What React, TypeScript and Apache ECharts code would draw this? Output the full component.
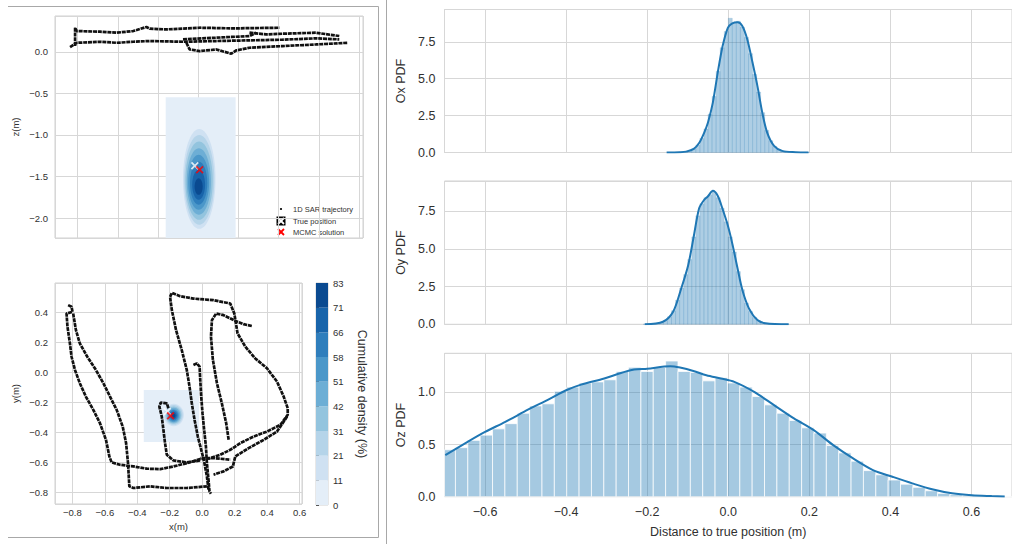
import React, { useEffect, useRef } from 'react';
import * as echarts from 'echarts';

const FONT = '"Liberation Sans", Arial, sans-serif';
const TXT = '#303030';
const GRID = '#d7d7d7';

// ---- 1D SAR trajectory, side view (x, z) ----
const sarXZSeg1 = [[-0.813,0.068],[-0.813,0.289],[-0.805,0.249],[-0.689,0.241],[-0.606,0.229],[-0.524,0.249],[-0.458,0.297],[-0.441,0.277],[-0.358,0.269],[-0.193,0.289],[-0.028,0.281],[0.204,0.289]];
const sarXZSeg2 = [[-0.838,0.056],[-0.805,0.108],[-0.689,0.120],[-0.606,0.108],[-0.524,0.120],[-0.441,0.129],[-0.276,0.120],[-0.110,0.129],[0.055,0.137],[0.220,0.145],[0.386,0.161],[0.502,0.149]];
const sarXZSeg3 = [[0.055,0.229],[0.138,0.209],[0.220,0.217],[0.386,0.229],[0.502,0.189]];
const sarXZSeg4 = [[-0.259,0.108],[-0.243,0.028],[-0.193,0.008],[-0.110,0.028],[-0.036,-0.024],[-0.011,0.016],[0.055,0.048],[0.220,0.068],[0.386,0.088],[0.543,0.108]];
const sarXZSeg5 = [[-0.276,0.149],[-0.110,0.169],[0.055,0.189],[0.088,0.229]];

// ---- 1D SAR trajectory, top view (x, y) ----
const sarXYSeg1 = [[-0.826,0.449],[-0.805,0.438],[-0.799,0.404],[-0.836,0.393],[-0.830,0.304],[-0.815,0.193],[-0.805,0.104],[-0.784,0.016],[-0.754,-0.073],[-0.717,-0.162],[-0.671,-0.251],[-0.630,-0.340],[-0.593,-0.451],[-0.572,-0.562],[-0.558,-0.602],[-0.506,-0.618],[-0.424,-0.629],[-0.342,-0.644],[-0.259,-0.647],[-0.177,-0.629],[-0.095,-0.607],[-0.012,-0.580],[0.070,-0.573],[0.173,-0.584]];
const sarXYSeg2 = [[-0.795,0.393],[-0.778,0.282],[-0.754,0.193],[-0.708,0.104],[-0.655,0.016],[-0.609,-0.073],[-0.568,-0.162],[-0.527,-0.251],[-0.490,-0.362],[-0.469,-0.473],[-0.457,-0.607],[-0.449,-0.762],[-0.424,-0.773],[-0.321,-0.762],[-0.218,-0.773],[-0.095,-0.773],[0.029,-0.762]];
const sarXYSeg3 = [[-0.208,-0.240],[-0.218,-0.207],[-0.255,-0.202],[-0.264,-0.229],[-0.249,-0.296],[-0.239,-0.384],[-0.229,-0.473],[-0.218,-0.551],[-0.177,-0.589],[-0.095,-0.602],[-0.012,-0.589]];
const sarXYSeg4 = [[-0.054,0.049],[-0.033,0.060],[-0.016,0.038],[-0.012,-0.051],[-0.006,-0.162],[0.002,-0.273],[0.012,-0.384],[0.023,-0.496],[0.029,-0.607],[0.039,-0.718],[0.045,-0.796],[0.054,-0.811]];
const sarXYSeg5 = [[0.039,-0.784],[0.029,-0.696],[0.012,-0.596],[-0.006,-0.518],[-0.027,-0.429],[-0.047,-0.318],[-0.064,-0.207],[-0.078,-0.096],[-0.095,0.016],[-0.126,0.149],[-0.161,0.282],[-0.187,0.416],[-0.198,0.504],[-0.187,0.531],[-0.136,0.509],[-0.054,0.493],[0.070,0.482],[0.173,0.460],[0.198,0.393],[0.218,0.260],[0.266,0.171],[0.327,0.093],[0.399,0.027],[0.461,-0.062],[0.502,-0.162],[0.527,-0.240],[0.527,-0.284],[0.482,-0.351],[0.399,-0.396],[0.317,-0.429],[0.235,-0.473],[0.173,-0.518],[0.111,-0.551],[0.049,-0.573],[-0.012,-0.573]];
const sarXYSeg6 = [[0.163,-0.451],[0.148,-0.340],[0.121,-0.207],[0.091,-0.073],[0.066,0.082],[0.054,0.238],[0.060,0.349],[0.086,0.393],[0.132,0.382],[0.194,0.349],[0.255,0.322],[0.307,0.309]];
const sarXYSeg7 = [[0.523,-0.296],[0.461,-0.396],[0.379,-0.451],[0.286,-0.507],[0.204,-0.562],[0.189,-0.629],[0.132,-0.662],[0.070,-0.684]];

// ---- KDE of MCMC samples: grid extent [x0, y0, x1, y1] and contour levels [cx, cy, rx, ry] ----
const kdeXZRect = [-0.362, -2.24, -0.014, -0.546];
const kdeXZLevels = [
  [-0.195,-1.53,0.081,0.60],[-0.195,-1.54,0.075,0.54],[-0.196,-1.55,0.068,0.47],[-0.197,-1.56,0.060,0.40],
  [-0.198,-1.57,0.052,0.33],[-0.198,-1.58,0.043,0.26],[-0.198,-1.60,0.032,0.18],[-0.198,-1.62,0.020,0.10],
];
const kdeXYRect = [-0.36, -0.465, -0.019, -0.118];
const kdeXYLevels = [
  [-0.175,-0.285,0.062,0.075],[-0.175,-0.285,0.055,0.066],[-0.176,-0.286,0.048,0.058],[-0.176,-0.287,0.041,0.050],
  [-0.177,-0.288,0.034,0.042],[-0.177,-0.288,0.027,0.034],[-0.177,-0.289,0.020,0.025],[-0.177,-0.289,0.012,0.016],
];
const truePosXZ = [-0.217, -1.37];
const mcmcXZ = [-0.193, -1.42];
const truePosXY = [-0.215, -0.262];
const mcmcXY = [-0.195, -0.291];

// ---- colour bar ----
const cbTicks = ['0','11','21','31','42','51','58','66','71','83'];
const blues = ['#e4eef8','#cfe1f2','#b5d4e9','#93c4de','#6daed5','#4b97c9','#2f7ebc','#1864aa','#0a4a90'];

// ---- marginal PDFs ----
const oxHistStart = -0.15;
const oxHistWidth = 0.01;
const oxHist = [0.01,0.01,0.02,0.03,0.06,0.12,0.25,0.5,0.95,1.6,2.6,3.8,5.5,7.1,8.2,9.1,8.8,8.9,8.5,7.8,6.7,5.3,4.1,2.7,1.5,0.8,0.4,0.2,0.1,0.05,0.03,0.02,0.01,0.01,0.01];
const oxKde = [[-0.152,0.0],[-0.120,0.02],[-0.104,0.06],[-0.085,0.25],[-0.071,0.68],[-0.060,1.3],[-0.050,2.03],[-0.038,3.38],[-0.026,5.4],[-0.014,7.2],[-0.001,8.45],[0.009,8.74],[0.023,8.83],[0.035,8.56],[0.047,7.66],[0.060,6.08],[0.072,4.5],[0.084,2.7],[0.096,1.35],[0.113,0.45],[0.133,0.11],[0.166,0.02],[0.198,0.0]];

const oyHistStart = -0.21;
const oyHistWidth = 0.01;
const oyHist = [0.01,0.01,0.02,0.04,0.1,0.25,0.5,0.9,1.6,2.4,3.3,4.3,5.8,7.2,8.0,8.4,8.6,8.8,8.4,7.7,6.8,5.8,4.8,3.5,2.3,1.4,0.85,0.45,0.25,0.12,0.06,0.03,0.02,0.01,0.01,0.01];
const oyKde = [[-0.206,0],[-0.161,0.17],[-0.136,0.83],[-0.116,2.38],[-0.099,3.9],[-0.086,5.7],[-0.072,7.68],[-0.061,8.2],[-0.050,8.5],[-0.038,8.86],[-0.026,8.53],[-0.014,7.65],[-0.001,6.55],[0.011,5.23],[0.023,3.7],[0.035,2.26],[0.051,1.06],[0.072,0.28],[0.092,0.07],[0.149,0]];

const ozHistStart = -0.7035;
const ozHistWidth = 0.0305;
const ozHist = [0.45,0.47,0.54,0.59,0.65,0.70,0.80,0.87,0.89,1.01,1.05,1.09,1.10,1.12,1.20,1.24,1.20,1.24,1.30,1.20,1.19,1.11,1.14,1.09,1.05,0.96,0.88,0.80,0.73,0.66,0.61,0.49,0.42,0.34,0.25,0.21,0.16,0.12,0.09,0.057,0.032,0.019,0.013,0.006,0.003,0.002];
const ozKde = [[-0.698,0.399],[-0.643,0.526],[-0.6,0.621],[-0.550,0.717],[-0.493,0.836],[-0.444,0.931],[-0.4,1.020],[-0.363,1.074],[-0.306,1.132],[-0.269,1.18],[-0.232,1.218],[-0.2,1.227],[-0.143,1.250],[-0.119,1.237],[-0.086,1.205],[-0.054,1.163],[-0.018,1.132],[0.015,1.100],[0.064,1.004],[0.113,0.877],[0.162,0.750],[0.211,0.638],[0.259,0.494],[0.308,0.367],[0.357,0.255],[0.405,0.191],[0.454,0.128],[0.503,0.071],[0.552,0.032],[0.601,0.013],[0.650,0.006],[0.682,0.003]];

const fmt = (v: number) => {
  if (Math.abs(v) < 1e-9) return '0.0';
  return (v < 0 ? '\u2212' : '') + Math.abs(v).toFixed(1);
};

const histData = (start: number, w: number, vals: number[]) =>
  vals.map((v, i) => [start + i * w, start + (i + 1) * w, v]);

const rectRender = (fill: string) => (params: any, api: any) => {
  const p0 = api.coord([api.value(0), api.value(1)]);
  const p1 = api.coord([api.value(2), api.value(3)]);
  return {
    type: 'rect',
    shape: { x: Math.min(p0[0], p1[0]), y: Math.min(p0[1], p1[1]), width: Math.abs(p1[0] - p0[0]), height: Math.abs(p1[1] - p0[1]) },
    style: { fill },
  };
};

const ellipseRender = (params: any, api: any) => {
  const c = api.coord([api.value(0), api.value(1)]);
  const s = api.size([api.value(2), api.value(3)]);
  return { type: 'ellipse', shape: { cx: c[0], cy: c[1], rx: s[0], ry: s[1] }, style: { fill: blues[params.dataIndex + 1] } };
};

const histRender = (fill: string, stroke: string, lw: number) => (params: any, api: any) => {
  const cs = params.coordSys;
  const p0 = api.coord([api.value(0), api.value(2)]);
  const p1 = api.coord([api.value(1), 0]);
  const x0 = Math.max(p0[0], cs.x);
  const x1 = Math.min(p1[0], cs.x + cs.width);
  if (x1 <= x0) return null;
  return { type: 'rect', shape: { x: x0, y: p0[1], width: x1 - x0, height: p1[1] - p0[1] }, style: { fill, stroke, lineWidth: lw } };
};

const X_PATH = 'path://M0,1.6L1.6,0L5,3.4L8.4,0L10,1.6L6.6,5L10,8.4L8.4,10L5,6.6L1.6,10L0,8.4L3.4,5Z';

export default function App() {
  const ref = useRef<HTMLDivElement>(null);
  useEffect(() => {
    if (!ref.current) return;
    const chart = echarts.init(ref.current, undefined, { renderer: 'svg' });

    const split = { show: true, lineStyle: { color: GRID, width: 1 } };
    const noLine = { show: false };
    const lbl = (size: number, margin: number, extra: any = {}) => ({ fontSize: size, color: TXT, fontFamily: FONT, margin, formatter: fmt, ...extra });
    const nameStyle = (size: number) => ({ fontSize: size, color: TXT, fontFamily: FONT });
    const gridBox = { show: true, borderColor: '#d0d0d0', borderWidth: 1, backgroundColor: 'transparent' };

    const trajSeries = (segs: number[][][], xi: number) =>
      segs.map((seg) => ({
        type: 'line', xAxisIndex: xi, yAxisIndex: xi, data: seg, showSymbol: false, silent: true,
        lineStyle: { color: '#111111', width: 2.7, type: [4, 0.8] },
      }));

    const markerSeries = (pt: number[], color: string, xi: number) => ({
      type: 'scatter', xAxisIndex: xi, yAxisIndex: xi, data: [pt], symbol: X_PATH, symbolSize: 8, silent: true,
      itemStyle: { color },
    });

    const option: any = {
      animation: false,
      backgroundColor: '#ffffff',
      textStyle: { fontFamily: FONT },
      grid: [
        { left: 55, top: 16, width: 308, height: 222, ...gridBox },
        { left: 55, top: 283, width: 247, height: 221, ...gridBox },
        { left: 316, top: 283, width: 12, height: 222, ...gridBox },
        { left: 444.5, top: 9.5, width: 574.5, height: 143, ...gridBox },
        { left: 444.5, top: 181, width: 574.5, height: 143.3, ...gridBox },
        { left: 444.5, top: 353.3, width: 574.5, height: 143.4, ...gridBox },
      ],
      xAxis: [
        { type: 'value', gridIndex: 0, min: -0.913, max: 0.62, splitNumber: 7, axisLabel: { show: false }, axisLine: noLine, axisTick: noLine, splitLine: split },
        { type: 'value', gridIndex: 1, min: -0.907, max: 0.615, splitNumber: 7, axisLabel: lbl(9.5, 3, { showMinLabel: false, showMaxLabel: false }), axisLine: noLine, axisTick: noLine, splitLine: split,
          name: 'x(m)', nameLocation: 'middle', nameGap: 17, nameTextStyle: nameStyle(9.5) },
        { type: 'value', gridIndex: 2, min: 0, max: 1, show: false },
        { type: 'value', gridIndex: 3, min: -0.7, max: 0.7, splitNumber: 7, axisLabel: { show: false }, axisLine: noLine, axisTick: noLine, splitLine: split },
        { type: 'value', gridIndex: 4, min: -0.7, max: 0.7, splitNumber: 7, axisLabel: { show: false }, axisLine: noLine, axisTick: noLine, splitLine: split },
        { type: 'value', gridIndex: 5, min: -0.7, max: 0.7, splitNumber: 7, axisLabel: lbl(12.5, 9, { showMinLabel: false, showMaxLabel: false }), axisLine: noLine, axisTick: noLine, splitLine: split,
          name: 'Distance to true position (m)', nameLocation: 'middle', nameGap: 29, nameTextStyle: nameStyle(12.5) },
      ],
      yAxis: [
        { type: 'value', gridIndex: 0, min: -2.24, max: 0.43, splitNumber: 5, axisLabel: lbl(9.5, 7, { showMinLabel: false, showMaxLabel: false }), axisLine: noLine, axisTick: noLine, splitLine: split,
          name: 'z(m)', nameLocation: 'middle', nameGap: 35, nameRotate: 90, nameTextStyle: nameStyle(9.5) },
        { type: 'value', gridIndex: 1, min: -0.88, max: 0.597, splitNumber: 7, axisLabel: lbl(9.5, 7, { showMinLabel: false, showMaxLabel: false }), axisLine: noLine, axisTick: noLine, splitLine: split,
          name: 'y(m)', nameLocation: 'middle', nameGap: 35, nameRotate: 90, nameTextStyle: nameStyle(9.5) },
        { type: 'value', gridIndex: 2, min: 0, max: 9, interval: 1, position: 'right', axisLine: noLine, splitLine: { show: false },
          axisTick: { show: true, length: 3, lineStyle: { color: '#555555', width: 1 } },
          axisLabel: { fontSize: 9.5, color: TXT, fontFamily: FONT, margin: 5, formatter: (v: number) => cbTicks[Math.round(v)] ?? '' },
          name: 'Cumulative density (%)', nameLocation: 'middle', nameGap: 27, nameRotate: -90, nameTextStyle: nameStyle(12.5) },
        { type: 'value', gridIndex: 3, min: 0, max: 9.69, interval: 2.5, axisLabel: lbl(12.5, 9, { showMaxLabel: false }), axisLine: noLine, axisTick: noLine, splitLine: split,
          name: 'Ox PDF', nameLocation: 'middle', nameGap: 37, nameRotate: 90, nameTextStyle: nameStyle(12.5) },
        { type: 'value', gridIndex: 4, min: 0, max: 9.51, interval: 2.5, axisLabel: lbl(12.5, 9, { showMaxLabel: false }), axisLine: noLine, axisTick: noLine, splitLine: split,
          name: 'Oy PDF', nameLocation: 'middle', nameGap: 37, nameRotate: 90, nameTextStyle: nameStyle(12.5) },
        { type: 'value', gridIndex: 5, min: 0, max: 1.374, interval: 0.5, axisLabel: lbl(12.5, 9, { showMaxLabel: false }), axisLine: noLine, axisTick: noLine, splitLine: split,
          name: 'Oz PDF', nameLocation: 'middle', nameGap: 37, nameRotate: 90, nameTextStyle: nameStyle(12.5) },
      ],
      series: [
        // side view
        { type: 'custom', xAxisIndex: 0, yAxisIndex: 0, data: [kdeXZRect], renderItem: rectRender(blues[0]), encode: { x: [0, 2], y: [1, 3] }, silent: true, clip: true },
        { type: 'custom', xAxisIndex: 0, yAxisIndex: 0, data: kdeXZLevels, renderItem: ellipseRender, encode: { x: 0, y: 1 }, silent: true, clip: true },
        ...trajSeries([sarXZSeg1, sarXZSeg2, sarXZSeg3, sarXZSeg4, sarXZSeg5], 0),
        markerSeries(truePosXZ, '#ffffff', 0),
        markerSeries(mcmcXZ, '#ff0000', 0),
        // top view
        { type: 'custom', xAxisIndex: 1, yAxisIndex: 1, data: [kdeXYRect], renderItem: rectRender(blues[0]), encode: { x: [0, 2], y: [1, 3] }, silent: true, clip: true },
        { type: 'custom', xAxisIndex: 1, yAxisIndex: 1, data: kdeXYLevels, renderItem: ellipseRender, encode: { x: 0, y: 1 }, silent: true, clip: true },
        ...trajSeries([sarXYSeg1, sarXYSeg2, sarXYSeg3, sarXYSeg4, sarXYSeg5, sarXYSeg6, sarXYSeg7], 1),
        markerSeries(truePosXY, '#ffffff', 1),
        markerSeries(mcmcXY, '#ff0000', 1),
        // colour bar
        { type: 'custom', xAxisIndex: 2, yAxisIndex: 2, data: blues.map((_, i) => [0, i, 1, i + 1]), encode: { x: [0, 2], y: [1, 3] }, silent: true,
          renderItem: (params: any, api: any) => rectRender(blues[params.dataIndex])(params, api) },
        // marginal PDFs
        { type: 'custom', xAxisIndex: 3, yAxisIndex: 3, data: histData(oxHistStart, oxHistWidth, oxHist), encode: { x: [0, 1], y: 2 }, silent: true,
          renderItem: histRender('rgba(31,119,180,0.36)', 'rgba(31,119,180,0.22)', 0.6) },
        { type: 'line', xAxisIndex: 3, yAxisIndex: 3, data: oxKde, showSymbol: false, smooth: 0.3, silent: true, lineStyle: { color: '#1f77b4', width: 2 } },
        { type: 'custom', xAxisIndex: 4, yAxisIndex: 4, data: histData(oyHistStart, oyHistWidth, oyHist), encode: { x: [0, 1], y: 2 }, silent: true,
          renderItem: histRender('rgba(31,119,180,0.36)', 'rgba(31,119,180,0.22)', 0.6) },
        { type: 'line', xAxisIndex: 4, yAxisIndex: 4, data: oyKde, showSymbol: false, smooth: 0.3, silent: true, lineStyle: { color: '#1f77b4', width: 2 } },
        { type: 'custom', xAxisIndex: 5, yAxisIndex: 5, data: histData(ozHistStart, ozHistWidth, ozHist), encode: { x: [0, 1], y: 2 }, silent: true,
          renderItem: histRender('rgba(31,119,180,0.4)', 'rgba(255,255,255,0.75)', 1) },
        { type: 'line', xAxisIndex: 5, yAxisIndex: 5, data: ozKde, showSymbol: false, smooth: 0.3, silent: true, lineStyle: { color: '#1f77b4', width: 2 } },
      ],
      graphic: [
        { type: 'polyline', silent: true, shape: { points: [[8, 6.5], [378.5, 6.5], [378.5, 537.5], [8, 537.5]] }, style: { stroke: '#a8a8a8', lineWidth: 1, fill: 'none' } },
        { type: 'line', silent: true, shape: { x1: 386.5, y1: 0, x2: 386.5, y2: 544 }, style: { stroke: '#a8a8a8', lineWidth: 1 } },
        // legend of the side view
        { type: 'rect', silent: true, shape: { x: 271, y: 203, width: 91, height: 34, r: 2 }, style: { fill: 'rgba(255,255,255,0.8)' } },
        { type: 'circle', silent: true, shape: { cx: 281, cy: 209, r: 1.1 }, style: { fill: '#111111' } },
        { type: 'text', silent: true, style: { x: 293, y: 209, text: '1D SAR trajectory', fontSize: 7.5, fontFamily: FONT, fill: TXT, verticalAlign: 'middle' } },
        { type: 'rect', silent: true, shape: { x: 276.5, y: 216.5, width: 9, height: 9 }, style: { fill: '#000000' } },
        { type: 'line', silent: true, shape: { x1: 278, y1: 218, x2: 284, y2: 224 }, style: { stroke: '#ffffff', lineWidth: 1.8 } },
        { type: 'line', silent: true, shape: { x1: 284, y1: 218, x2: 278, y2: 224 }, style: { stroke: '#ffffff', lineWidth: 1.8 } },
        { type: 'text', silent: true, style: { x: 293, y: 221, text: 'True position', fontSize: 7.5, fontFamily: FONT, fill: TXT, verticalAlign: 'middle' } },
        { type: 'line', silent: true, shape: { x1: 278, y1: 229, x2: 284, y2: 235 }, style: { stroke: '#ff0000', lineWidth: 1.8 } },
        { type: 'line', silent: true, shape: { x1: 284, y1: 229, x2: 278, y2: 235 }, style: { stroke: '#ff0000', lineWidth: 1.8 } },
        { type: 'text', silent: true, style: { x: 293, y: 232, text: 'MCMC solution', fontSize: 7.5, fontFamily: FONT, fill: TXT, verticalAlign: 'middle' } },
      ],
    };
    chart.setOption(option);
    return () => chart.dispose();
  }, []);
  return <div ref={ref} style={{ position: 'fixed', left: 0, top: 0, width: 1012, height: 544, background: '#ffffff' }} />;
}
